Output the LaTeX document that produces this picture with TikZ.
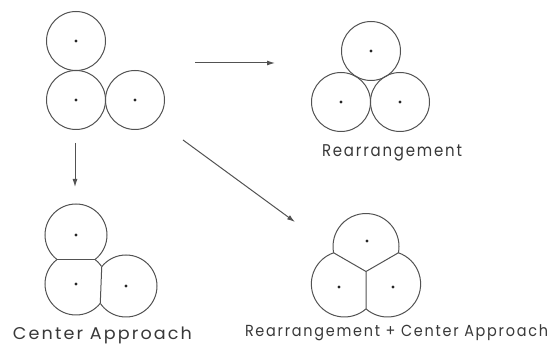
\documentclass[tikz,border=0pt]{standalone}
\usepackage{fontspec}
\usepackage{graphicx}
\newfontfamily\lblfont{Poppins}[LetterSpace=12]
\usetikzlibrary{arrows.meta,calc}
\begin{document}
\begin{tikzpicture}[x=1pt,y=1pt,
  ln/.style={line width=1pt, draw=black!68},
  dotm/.style={circle, fill=black!85, inner sep=0pt, minimum size=3.2pt},
  arr/.style={line width=1pt, draw=black!68, -{Latex[length=8pt,width=5pt]}},
  lbl/.style={inner sep=0pt, anchor=base, text=black!78}]
\useasboundingbox (0,0) rectangle (549,345);

% ---- group 1: initial touching circles
\coordinate (a1) at (76,304);
\coordinate (a2) at (76,245);
\coordinate (a3) at (135,245);
\foreach \c in {a1,a2,a3}{
  \draw[ln] (\c) circle[radius=29.5];
  \node[dotm] (d\c) at (\c) {};
}

% ---- group 2: rearrangement
\coordinate (b1) at (371,294);
\coordinate (b2) at (341,243);
\coordinate (b3) at (400,243);
\foreach \c in {b1,b2,b3}{
  \draw[ln] (\c) circle[radius=29.5];
  \node[dotm] (d\c) at (\c) {};
}

% ---- group 3: center approach
\coordinate (c1) at (76,110);
\coordinate (c2) at (76,61);
\coordinate (c3) at (126,59);
\begin{scope}
  \clip (0,85.5) rectangle (200,200);
  \draw[ln] (c1) circle[radius=31];
\end{scope}
\begin{scope}
  \clip (0,0) -- (98.6,0) -- (102,85.5) -- (0,85.5) -- cycle;
  \draw[ln] (c2) circle[radius=31];
\end{scope}
\begin{scope}
  \clip (98.6,0) -- (200,0) -- (200,200) -- (106.6,200) -- cycle;
  \draw[ln] (c3) circle[radius=31];
\end{scope}
\coordinate (ch1) at (57,85.5);
\coordinate (ch2) at (95,85.5);
\coordinate (ch3) at (100.27,41.71);
\coordinate (ch4) at (101.73,78.29);
\draw[ln] (ch1) -- (ch2);
\draw[ln] (ch3) -- (ch4);
\foreach \c in {c1,c2,c3}{ \node[dotm] (d\c) at (\c) {}; }

% ---- group 4: rearrangement + center approach
\coordinate (G) at (366,73.5);
\coordinate (vtl) at ($(G)+(150:37.4)$);
\coordinate (vtr) at ($(G)+(30:37.4)$);
\coordinate (vlr) at ($(G)+(270:37.4)$);
\draw[ln] (vtr) arc[start angle=-11,end angle=191,radius=33];
\draw[ln] (vtl) arc[start angle=109,end angle=311,radius=33];
\draw[ln] (vlr) arc[start angle=229,end angle=431,radius=33];
\draw[ln] (G) -- (vtl) (G) -- (vtr) (G) -- (vlr);
\coordinate (e1) at (367,104);
\coordinate (e2) at (339,58);
\coordinate (e3) at (393,58);
\foreach \c in {e1,e2,e3}{ \node[dotm] (d\c) at (\c) {}; }

% ---- arrows
\coordinate (h1) at (195,282);
\coordinate (h2) at (275,282);
\coordinate (v1) at (75,202);
\coordinate (v2) at (75,158);
\coordinate (g1) at (183,205);
\coordinate (g2) at (295,123);
\draw[arr] (h1) -- (h2);
\draw[arr] (v1) -- (v2);
\draw[arr] (g1) -- (g2);

% ---- labels
\node[lbl] (l1) at (392,188)
  {\resizebox{140pt}{\height}{\lblfont\fontsize{17}{19}\selectfont Rearrangement}};
\node[lbl] (l2) at (102.5,5.5)
  {\resizebox{179pt}{\height}{\lblfont\fontsize{17}{19}\selectfont Center Approach}};
\node[lbl] (l3) at (396.5,8.5)
  {\resizebox{303pt}{\height}{\lblfont\fontsize{16}{18}\selectfont Rearrangement + Center Approach}};
\end{tikzpicture}
\end{document}
